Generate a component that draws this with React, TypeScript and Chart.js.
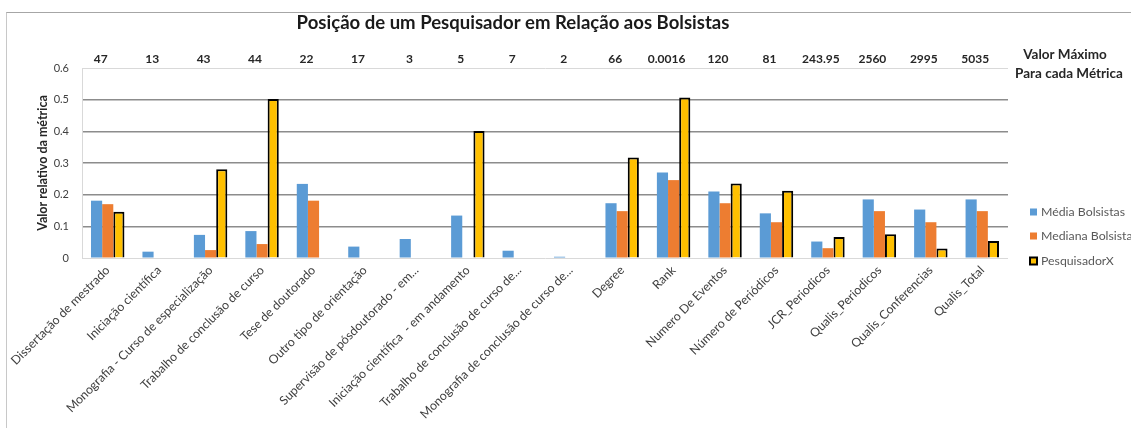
import React, { useEffect, useRef } from "react";
import { Chart, registerables } from "chart.js";

Chart.register(...registerables);

const chartTitle = "Posição de um Pesquisador em Relação aos Bolsistas";
const yAxisTitle = "Valor relativo da métrica";
const maxHeaderLines = ["Valor Máximo", "Para cada Métrica"];

const categories = [
  "Dissertação de mestrado",
  "Iniciação científica",
  "Monografia - Curso de especialização",
  "Trabalho de conclusão de curso",
  "Tese de doutorado",
  "Outro tipo de orientação",
  "Supervisão de pósdoutorado - em...",
  "Iniciação científica  - em andamento",
  "Trabalho de conclusão de curso de...",
  "Monografia de conclusão de curso de...",
  "Degree",
  "Rank",
  "Numero De Eventos",
  "Número de Periódicos",
  "JCR_Periodicos",
  "Qualis_Periodicos",
  "Qualis_Conferencias",
  "Qualis_Total",
];

const maxValues = [
  "47", "13", "43", "44", "22", "17", "3", "5", "7", "2",
  "66", "0.0016", "120", "81", "243.95", "2560", "2995", "5035",
];

const seriesNames = ["Média Bolsistas", "Mediana Bolsistas", "PesquisadorX"];

const mediaBolsistas = [
  0.181, 0.02, 0.073, 0.085, 0.234, 0.036, 0.06, 0.134, 0.023, 0.004,
  0.173, 0.27, 0.21, 0.141, 0.052, 0.185, 0.153, 0.185,
];
const medianaBolsistas = [
  0.17, 0, 0.025, 0.044, 0.181, 0, 0, 0, 0, 0,
  0.148, 0.246, 0.173, 0.113, 0.031, 0.148, 0.113, 0.148,
];
const pesquisadorX = [
  0.146, 0, 0.28, 0.502, 0, 0, 0, 0.401, 0, 0,
  0.317, 0.507, 0.235, 0.212, 0.066, 0.075, 0.03, 0.054,
];

const yMin = 0;
const yMax = 0.6;
const yStep = 0.1;

const FONT = "Lato, 'Open Sans', 'DejaVu Sans', sans-serif";

const overlayPlugin = {
  id: "overlay",
  afterDraw(chart: any) {
    const ctx: CanvasRenderingContext2D = chart.ctx;
    const xScale = chart.scales.x;
    const area = chart.chartArea;
    ctx.save();

    // Title
    let size = 20;
    ctx.font = `bold ${size}px ${FONT}`;
    const w = ctx.measureText(chartTitle).width;
    size = size * Math.min(1.2, 433 / w);
    ctx.font = `bold ${size}px ${FONT}`;
    ctx.fillStyle = "#1a1a1a";
    ctx.textAlign = "center";
    ctx.textBaseline = "middle";
    ctx.fillText(chartTitle, 513, 23);

    // Max value header row
    ctx.font = `bold 12px ${FONT}`;
    ctx.fillStyle = "#262626";
    maxValues.forEach((v, i) => {
      ctx.fillText(v, xScale.getPixelForValue(i) - 7, area.top - 9);
    });
    ctx.font = `bold 13.5px ${FONT}`;
    ctx.fillText(maxHeaderLines[0], 1065, 55);
    ctx.fillText(maxHeaderLines[1], 1069, 74);

    // Legend
    ctx.textAlign = "left";
    ctx.font = `12.3px ${FONT}`;
    const legendY = [212, 236, 261];
    chart.data.datasets.forEach((ds: any, i: number) => {
      const y = legendY[i];
      const bx = 1030;
      if (ds.borderWidth > 0) {
        ctx.fillStyle = ds.borderColor;
        ctx.fillRect(bx - 1, y - 4.5, 9, 9);
        ctx.fillStyle = ds.backgroundColor;
        ctx.fillRect(bx + 1, y - 2.5, 5, 5);
      } else {
        ctx.fillStyle = ds.backgroundColor;
        ctx.fillRect(bx, y - 3.5, 7, 7);
      }
      ctx.fillStyle = "#595959";
      ctx.fillText(ds.label, bx + 11, y + 0.5);
    });

    ctx.restore();
  },
};

export default function App() {
  const canvasRef = useRef<HTMLCanvasElement | null>(null);

  useEffect(() => {
    document.body.style.margin = "0";
    const canvas = canvasRef.current;
    if (!canvas) return;
    const near = (a: number, b: number) => Math.abs(a - b) < 1e-6;
    const chart = new Chart(canvas, {
      type: "bar",
      data: {
        labels: categories,
        datasets: [
          {
            label: seriesNames[0],
            data: mediaBolsistas,
            backgroundColor: "#5B9BD5",
            borderWidth: 0,
          },
          {
            label: seriesNames[1],
            data: medianaBolsistas,
            backgroundColor: "#ED7D31",
            borderWidth: 0,
          },
          {
            label: seriesNames[2],
            data: pesquisadorX,
            backgroundColor: "#FFC000",
            borderColor: "#000000",
            borderWidth: 2,
          },
        ],
      },
      options: {
        responsive: false,
        animation: false,
        devicePixelRatio: 1,
        layout: { padding: { top: 68, right: 123, left: 0, bottom: 0 } },
        datasets: {
          bar: { categoryPercentage: 0.65, barPercentage: 1.0 },
        },
        plugins: {
          legend: { display: false },
          title: { display: false },
          tooltip: { enabled: false },
        },
        scales: {
          x: {
            ticks: {
              autoSkip: false,
              minRotation: 45,
              maxRotation: 45,
              padding: 5,
              color: "#404040",
              font: { family: FONT, size: 12.3 },
            },
            grid: { display: false, drawTicks: false },
            border: { display: false },
            afterFit: (s: any) => {
              s.height = 170;
            },
          },
          y: {
            min: yMin,
            max: yMax,
            ticks: {
              stepSize: yStep,
              padding: 13,
              color: "#404040",
              font: { family: FONT, size: 11 },
              callback: (v: any) => (near(Number(v), 0) ? "0" : Number(v).toFixed(1)),
            },
            grid: {
              drawTicks: false,
              color: (c: any) =>
                near(c.tick.value, yMin) || near(c.tick.value, yMax) ? "#d9d9d9" : "#8c8c8c",
              lineWidth: (c: any) =>
                near(c.tick.value, yMin) || near(c.tick.value, yMax) ? 1 : 1.4,
            },
            border: { display: true, color: "#d9d9d9" },
            title: {
              display: true,
              text: yAxisTitle,
              color: "#262626",
              font: { family: FONT, size: 12.5, weight: "bold" },
              padding: { top: 35, bottom: 0 },
            },
            afterFit: (s: any) => {
              s.width = 82;
            },
          },
        },
      },
      plugins: [overlayPlugin],
    });
    return () => chart.destroy();
  }, []);

  return (
    <div style={{ position: "relative", width: 1131, height: 428, overflow: "hidden", background: "#fff" }}>
      <div
        style={{
          position: "absolute",
          left: 6,
          top: 12,
          width: 1200,
          height: 500,
          borderTop: "1px solid #a6a6a6",
          borderLeft: "1px solid #c8c8c8",
        }}
      />
      <canvas ref={canvasRef} width={1131} height={428} style={{ position: "absolute", left: 0, top: 0 }} />
    </div>
  );
}
